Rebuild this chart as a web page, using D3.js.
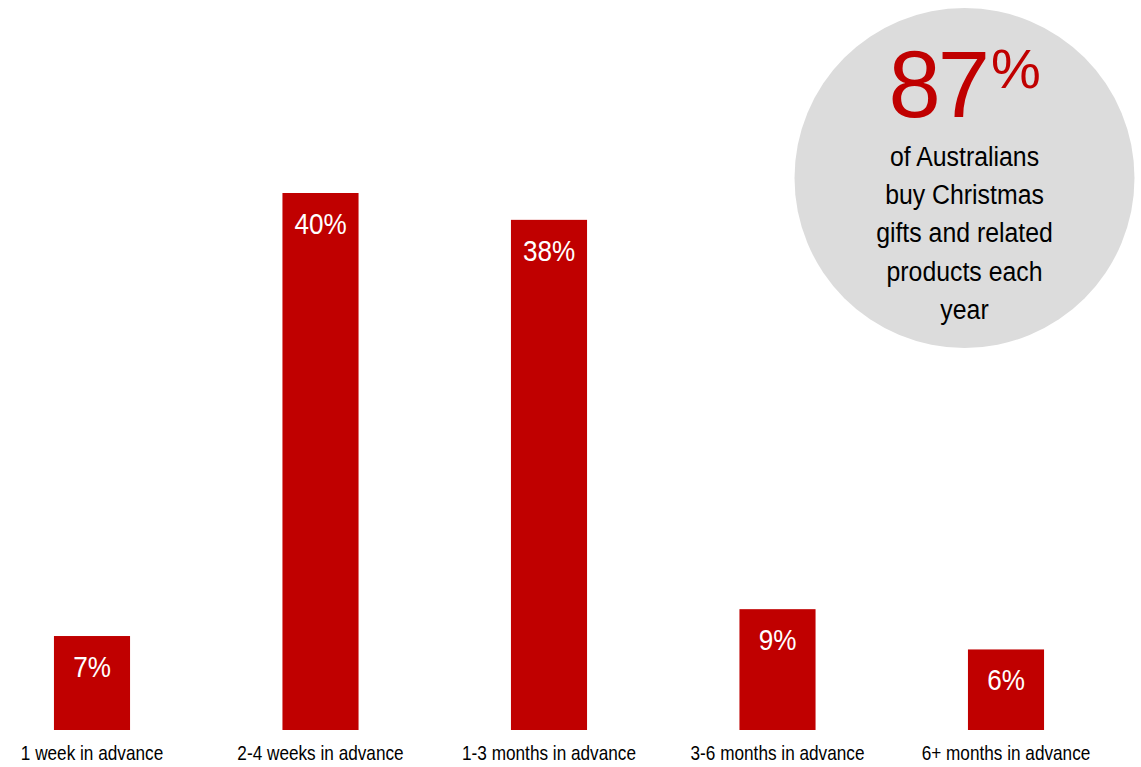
<!DOCTYPE html>
<html>
<head>
<meta charset="utf-8">
<script src="https://cdn.jsdelivr.net/npm/d3@7"></script>
<style>
  html, body { margin: 0; padding: 0; background: #ffffff; }
  svg { display: block; }
  .narrow { font-family: "Liberation Sans", Arial, sans-serif; }
</style>
</head>
<body>
<svg id="chart" width="1141" height="767"></svg>
<script>
// Share of Christmas shoppers by how far in advance they buy
const categories = ["1 week in advance", "2-4 weeks in advance", "1-3 months in advance", "3-6 months in advance", "6+ months in advance"];
const shares = [7, 40, 38, 9, 6];
const headlineValue = 87;
const headlineLines = ["of Australians", "buy Christmas", "gifts and related", "products each", "year"];

const W = 1141, H = 767;
const red = "#c00000";
const svg = d3.select("#chart");

const x = d3.scaleBand()
  .domain(categories)
  .range([-22.25, 1120.25])
  .paddingInner(0.667)
  .paddingOuter(0.3335);

const y = d3.scaleLinear()
  .domain([0, 40])
  .range([730, 193]);

// Bars
svg.append("g").selectAll("rect")
  .data(categories)
  .join("rect")
  .attr("x", d => x(d))
  .attr("y", (d, i) => y(shares[i]))
  .attr("width", x.bandwidth())
  .attr("height", (d, i) => y(0) - y(shares[i]))
  .attr("fill", red);

// Value labels inside the bars (condensed by a horizontal scale)
svg.append("g").selectAll("text")
  .data(categories)
  .join("text")
  .attr("class", "narrow")
  .attr("transform", (d, i) => `translate(${x(d) + x.bandwidth() / 2},${y(shares[i]) + 41}) scale(0.87,1)`)
  .attr("text-anchor", "middle")
  .attr("fill", "#ffffff")
  .attr("font-size", 30)
  .text((d, i) => shares[i] + "%");

// Category axis labels
const xAxis = d3.axisBottom(x).tickSize(0).tickPadding(0);
const axisG = svg.append("g")
  .attr("transform", `translate(0, 745)`)
  .call(xAxis);
axisG.select(".domain").remove();
axisG.selectAll("text")
  .attr("class", "narrow")
  .attr("font-size", 20)
  .attr("fill", "#000000")
  .attr("dy", 0)
  .attr("y", 15)
  .attr("transform", "scale(0.86,1)");

// Highlight bubble
const cx = 964.5, cy = 178, r = 170;
const bubble = svg.append("g");
bubble.append("circle")
  .attr("cx", cx).attr("cy", cy).attr("r", r)
  .attr("fill", "#dcdcdc");

bubble.append("text")
  .attr("x", 987)
  .attr("y", 117)
  .attr("text-anchor", "end")
  .attr("fill", red)
  .attr("font-family", "'Liberation Sans', Arial, sans-serif")
  .attr("font-size", 94)
  .attr("letter-spacing", -3)
  .text(headlineValue);

bubble.append("text")
  .attr("x", 991)
  .attr("y", 88)
  .attr("fill", red)
  .attr("font-family", "'Liberation Sans', Arial, sans-serif")
  .attr("font-size", 56)
  .text("%");

bubble.append("g").selectAll("text")
  .data(headlineLines)
  .join("text")
  .attr("class", "narrow")
  .attr("transform", (d, i) => `translate(${cx},${166 + i * 38.2}) scale(0.92,1)`)
  .attr("text-anchor", "middle")
  .attr("fill", "#000000")
  .attr("font-size", 27)
  .text(d => d);
</script>
</body>
</html>
